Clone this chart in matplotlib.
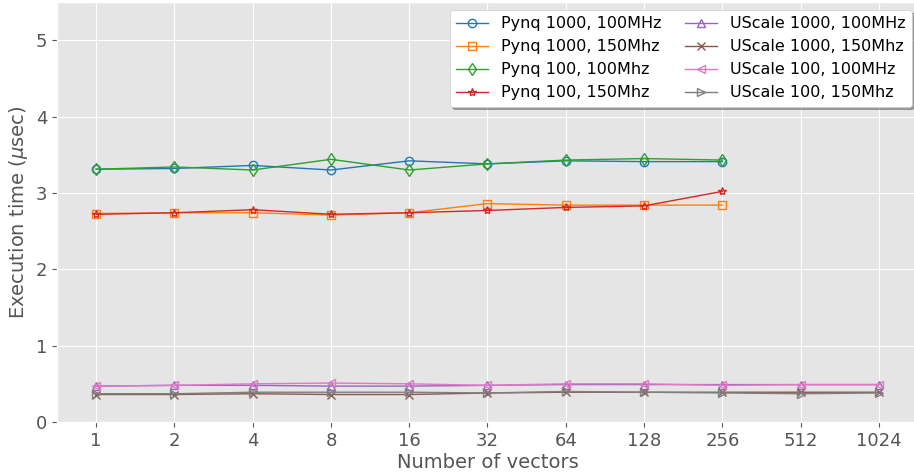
import matplotlib
matplotlib.use("Agg")
import matplotlib.pyplot as plt

plt.style.use("ggplot")

vectors = ["1", "2", "4", "8", "16", "32", "64", "128", "256", "512", "1024"]

pynq_1000_100 = [3.31, 3.32, 3.36, 3.30, 3.42, 3.38, 3.42, 3.41, 3.41]
pynq_1000_150 = [2.73, 2.74, 2.74, 2.71, 2.74, 2.86, 2.84, 2.84, 2.84]
pynq_100_100 = [3.31, 3.34, 3.30, 3.44, 3.30, 3.38, 3.43, 3.45, 3.43]
pynq_100_150 = [2.72, 2.74, 2.78, 2.72, 2.74, 2.77, 2.81, 2.83, 3.02]

uscale_1000_100 = [0.47, 0.48, 0.48, 0.47, 0.47, 0.48, 0.49, 0.49, 0.49, 0.49, 0.49]
uscale_1000_150 = [0.36, 0.36, 0.37, 0.36, 0.36, 0.38, 0.39, 0.39, 0.39, 0.39, 0.39]
uscale_100_100 = [0.47, 0.48, 0.50, 0.51, 0.50, 0.48, 0.50, 0.50, 0.48, 0.49, 0.49]
uscale_100_150 = [0.37, 0.37, 0.39, 0.39, 0.39, 0.38, 0.40, 0.39, 0.38, 0.37, 0.38]

series = [
    ("Pynq 1000, 100MHz", pynq_1000_100, "o", "#1f77b4"),
    ("Pynq 1000, 150Mhz", pynq_1000_150, "s", "#ff7f0e"),
    ("Pynq 100, 100Mhz", pynq_100_100, "d", "#2ca02c"),
    ("Pynq 100, 150Mhz", pynq_100_150, "*", "#d62728"),
    ("UScale 1000, 100MHz", uscale_1000_100, "^", "#9467bd"),
    ("UScale 1000, 150Mhz", uscale_1000_150, "x", "#8c564b"),
    ("UScale 100, 100MHz", uscale_100_100, "<", "#e377c2"),
    ("UScale 100, 150Mhz", uscale_100_150, ">", "#7f7f7f"),
]

fig = plt.figure(figsize=(9.14, 4.75), dpi=100)
ax = fig.add_axes([57 / 914, 53 / 475, 861 / 914, 420 / 475])

for label, vals, marker, color in series:
    xs = list(range(len(vals)))
    ax.plot(xs, vals, marker=marker, color=color, label=label,
            linewidth=1.0, markersize=6, markerfacecolor="none",
            markeredgewidth=1.0)

ax.set_xticks(range(len(vectors)))
ax.set_xticklabels(vectors)
ax.set_xlim(-0.5, 10.5)
ax.set_ylim(0, 5.5)
ax.tick_params(labelsize=13)
ax.set_xlabel("Number of vectors", fontsize=14, labelpad=2)
ax.set_ylabel("Execution time ($\\mu$sec)", fontsize=14)

leg = ax.legend(ncol=2, fontsize=11.5, loc="upper right",
                bbox_to_anchor=(912 / 914, 1 - 10 / 475),
                bbox_transform=fig.transFigure, borderaxespad=0,
                shadow=True, facecolor="white", framealpha=1,
                columnspacing=1.5)

fig.savefig("out.png", dpi=100)
